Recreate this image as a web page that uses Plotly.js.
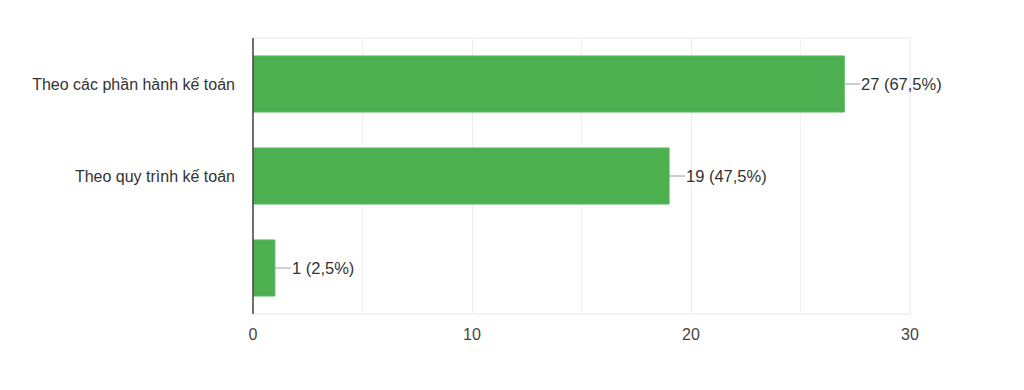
<!DOCTYPE html>
<html><head><meta charset="utf-8">
<script src="https://cdn.plot.ly/plotly-3.0.1.min.js"></script>
<style>html,body{margin:0;padding:0;background:#fff;}#chart{width:1024px;height:390px;}</style>
</head><body><div id="chart"></div>
<script>
const categories = ["Theo các phần hành kế toán", "Theo quy trình kế toán", ""];
const counts = [27, 19, 1];
const labels = ["27 (67,5%)", "19 (47,5%)", "1 (2,5%)"];
const xTicks = [0, 10, 20, 30];

const pos = categories.map((c, i) => i);

const trace = {
  type: 'bar', orientation: 'h',
  x: counts, y: pos,
  width: 0.61,
  marker: {color: '#4caf50', line: {color: '#5dbb61', width: 1}},
  hoverinfo: 'skip'
};

const annotations = counts.map((v, i) => ({
  x: v, y: i, xref: 'x', yref: 'y',
  text: labels[i], showarrow: true, arrowhead: 0, arrowwidth: 1.2, arrowcolor: '#9e9e9e',
  ax: 16, ay: 0, xanchor: 'left', yanchor: 'middle', borderpad: 0, standoff: 0,
  font: {family: 'Liberation Sans, Arial, sans-serif', size: 16.5, color: '#333'}
}));

const layout = {
  width: 1024, height: 390,
  margin: {l: 253, r: 114, t: 38, b: 76},
  paper_bgcolor: '#fff', plot_bgcolor: '#fff',
  showlegend: false,
  font: {family: 'Liberation Sans, Arial, sans-serif', size: 16, color: '#222'},
  xaxis: {
    range: [0, 30], tickvals: xTicks, ticktext: xTicks.map(String),
    showgrid: true, gridcolor: '#ebebeb', gridwidth: 1,
    minor: {dtick: 5, showgrid: true, gridcolor: '#f2f2f2', gridwidth: 1},
    zeroline: false, showline: false, ticks: '',
    ticklabelstandoff: 9,
    tickfont: {size: 16, color: '#444'}, fixedrange: true
  },
  yaxis: {
    range: [2.5, -0.5], tickvals: pos, ticktext: categories,
    showgrid: false, zeroline: false, showline: false, ticks: '',
    ticklabelstandoff: 17,
    tickfont: {size: 16, color: '#333'}, fixedrange: true
  },
  shapes: [
    {type: 'rect', xref: 'paper', yref: 'paper', x0: 0, x1: 1, y0: 0, y1: 1, line: {color: '#e4e4e4', width: 1}, layer: 'below'},
    {type: 'line', xref: 'paper', yref: 'paper', x0: 0, x1: 0, y0: 0, y1: 1, line: {color: '#444', width: 1.5}, layer: 'above'}
  ],
  annotations: annotations
};

Plotly.newPlot('chart', [trace], layout, {displayModeBar: false, staticPlot: true});
</script></body></html>
